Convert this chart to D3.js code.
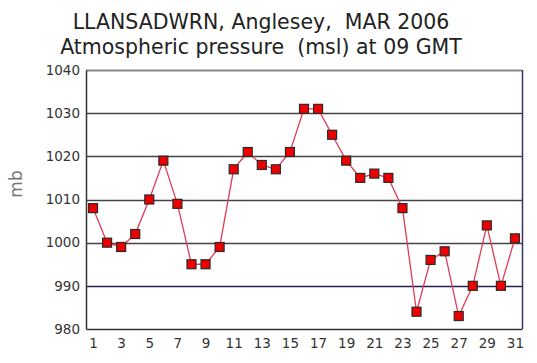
<!DOCTYPE html>
<html>
<head>
<meta charset="utf-8">
<script src="https://cdn.jsdelivr.net/npm/d3@7"></script>
<style>
  body { margin: 0; background: #fff; }
  text { font-family: Verdana, "DejaVu Sans", sans-serif; }
</style>
</head>
<body>
<div id="chart"></div>
<script>
// March 2006, daily pressure at 09 GMT (mb)
var days = d3.range(1, 32);
var pressure = [1008, 1000, 999, 1002, 1010, 1019, 1009, 995, 995, 999,
  1017, 1021, 1018, 1017, 1021, 1031, 1031, 1025, 1019, 1015,
  1016, 1015, 1008, 984, 996, 998, 983, 990, 1004, 990, 1001];
var yTicks = [980, 990, 1000, 1010, 1020, 1030, 1040];
var xTicks = [1, 3, 5, 7, 9, 11, 13, 15, 17, 19, 21, 23, 25, 27, 29, 31];
var titleLines = ["LLANSADWRN, Anglesey,  MAR 2006", "Atmospheric pressure  (msl) at 09 GMT"];

const margin = { top: 70, right: 15, bottom: 34, left: 86 },
  width = 537 - margin.left - margin.right,
  height = 363 - margin.top - margin.bottom;

const root = d3.select("#chart").append("svg")
  .attr("width", 537)
  .attr("height", 363);

// title
root.append("g").selectAll("text")
  .data(titleLines)
  .join("text")
  .attr("x", 261)
  .attr("y", function (d, i) { return 29 + i * 25; })
  .attr("text-anchor", "middle")
  .attr("font-size", "20.5px")
  .attr("fill", "#222")
  .attr("xml:space", "preserve")
  .text(function (d) { return d; });

// y label
root.append("text")
  .attr("transform", "translate(22,184) rotate(-90)")
  .attr("text-anchor", "middle")
  .attr("font-size", "17px")
  .attr("fill", "#777")
  .text("mb");

const svg = root.append("g")
  .attr("transform", `translate(${margin.left}, ${margin.top})`);

const x = d3.scalePoint()
  .domain(days)
  .range([0, width])
  .padding(0.5);

const y = d3.scaleLinear()
  .domain([980, 1040])
  .range([height, 0]);

// grid lines
svg.append("g")
  .selectAll("line")
  .data(yTicks.slice(1))
  .join("line")
  .attr("x1", 0)
  .attr("x2", width)
  .attr("y1", function (d) { return Math.round(y(d)) + 0.5; })
  .attr("y2", function (d) { return Math.round(y(d)) + 0.5; })
  .attr("stroke", function (d) { return d === 990 ? "#222250" : d === 1040 ? "#888" : "#444"; })
  .attr("stroke-width", function (d) { return d === 1040 ? 2 : 1.3; });

// right border
svg.append("line")
  .attr("x1", width + 0.5).attr("x2", width + 0.5)
  .attr("y1", 0).attr("y2", height)
  .attr("stroke", "#33336a")
  .attr("stroke-width", 1.5);

// y axis
const yAxis = svg.append("g")
  .call(d3.axisLeft(y).tickValues(yTicks).tickSize(0).tickPadding(6).tickFormat(d3.format("d")));
yAxis.select(".domain").attr("stroke", "#333").attr("stroke-width", 1.5);
yAxis.selectAll("text").attr("font-size", "13.5px").attr("fill", "#333")
  .attr("font-family", "Tahoma, 'DejaVu Sans', sans-serif");

// x axis
const xAxis = svg.append("g")
  .attr("transform", `translate(0, ${height})`)
  .call(d3.axisBottom(x).tickValues(xTicks).tickSize(0).tickPadding(9));
xAxis.select(".domain").attr("stroke", "#333").attr("stroke-width", 1.5);
xAxis.selectAll("text").attr("font-size", "13.5px").attr("fill", "#333")
  .attr("font-family", "Tahoma, 'DejaVu Sans', sans-serif");

// line
svg.append("path")
  .datum(pressure)
  .attr("fill", "none")
  .attr("stroke", "#e33a55")
  .attr("stroke-width", 1.3)
  .attr("d", d3.line()
    .x(function (d, i) { return x(days[i]); })
    .y(function (d) { return y(d); }));

// markers
var s = 9;
svg.append("g")
  .selectAll("rect")
  .data(pressure)
  .join("rect")
  .attr("x", function (d, i) { return x(days[i]) - s / 2; })
  .attr("y", function (d) { return y(d) - s / 2; })
  .attr("width", s)
  .attr("height", s)
  .attr("fill", "#ee0000")
  .attr("stroke", "#2a2a2a")
  .attr("stroke-width", 1.2);
</script>
</body>
</html>
